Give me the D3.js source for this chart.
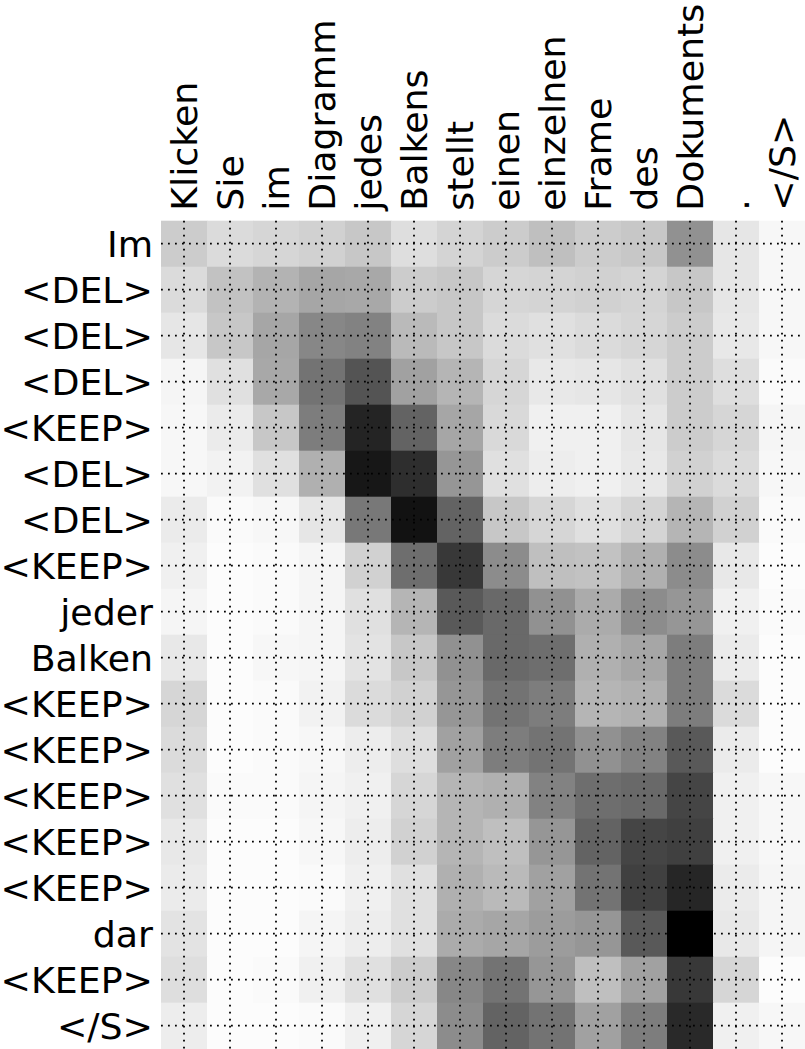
<!DOCTYPE html>
<html>
<head>
<meta charset="utf-8">
<script src="https://cdn.jsdelivr.net/npm/d3@7"></script>
<style>
  body { margin: 0; background: #fff; }
  svg { display: block; }
  .tick text { font-family: "DejaVu Sans", sans-serif; font-size: 36.3px; fill: #000; }
</style>
</head>
<body>
<svg id="chart" width="805" height="1049"></svg>
<script>
// source tokens (columns) and output tokens (rows)
const srcTokens = ["Klicken", "Sie", "im", "Diagramm", "jedes", "Balkens", "stellt",
                   "einen", "einzelnen", "Frame", "des", "Dokuments", ".", "</S>"];
const outTokens = ["Im", "<DEL>", "<DEL>", "<DEL>", "<KEEP>", "<DEL>", "<DEL>", "<KEEP>",
                   "jeder", "Balken", "<KEEP>", "<KEEP>", "<KEEP>", "<KEEP>", "<KEEP>",
                   "dar", "<KEEP>", "</S>"];

// attention weights, one row per output token
const attention = [
  [.20, .14, .16, .18, .22, .13, .17, .20, .25, .20, .22, .43, .10, .03],
  [.14, .24, .30, .35, .34, .20, .22, .16, .17, .18, .17, .22, .10, .03],
  [.10, .22, .35, .47, .49, .27, .22, .14, .12, .14, .16, .20, .09, .03],
  [.04, .12, .34, .55, .67, .37, .29, .16, .09, .10, .12, .20, .13, .02],
  [.03, .08, .22, .51, .86, .61, .35, .15, .06, .06, .10, .20, .16, .04],
  [.03, .05, .12, .31, .91, .82, .41, .12, .07, .06, .09, .18, .14, .03],
  [.08, .02, .03, .10, .53, .93, .61, .22, .16, .12, .17, .29, .18, .02],
  [.06, .01, .02, .04, .18, .57, .78, .45, .25, .24, .31, .45, .09, .01],
  [.04, .01, .02, .04, .12, .29, .65, .59, .43, .33, .45, .41, .06, .02],
  [.09, .01, .03, .04, .11, .22, .43, .59, .57, .31, .35, .51, .08, .01],
  [.16, .01, .02, .05, .14, .18, .41, .55, .51, .29, .31, .51, .14, .01],
  [.14, .01, .02, .03, .07, .13, .37, .51, .55, .43, .49, .65, .08, .01],
  [.12, .02, .02, .04, .06, .16, .29, .31, .49, .57, .59, .73, .06, .03],
  [.09, .01, .01, .03, .07, .18, .29, .25, .41, .61, .73, .75, .06, .03],
  [.08, .01, .01, .02, .06, .12, .31, .27, .37, .55, .75, .85, .08, .04],
  [.11, .01, .01, .04, .07, .12, .33, .35, .39, .41, .65, 1.0, .09, .04],
  [.13, .01, .02, .06, .12, .20, .47, .55, .41, .25, .37, .78, .16, .01],
  [.07, .01, .01, .02, .06, .16, .45, .61, .55, .37, .51, .84, .06, .03]
];

const margin = {top: 220.7, left: 161};
const width = 644, height = 828;

const svg = d3.select("#chart");
const g = svg.append("g").attr("transform", `translate(${margin.left},${margin.top})`);

const x = d3.scaleBand().domain(d3.range(srcTokens.length)).range([0, width]);
const y = d3.scaleBand().domain(d3.range(outTokens.length)).range([0, height]);
const color = d3.scaleLinear().domain([0, 1]).range(["#ffffff", "#000000"]);

// flatten to cells
const cells = [];
attention.forEach((row, r) => row.forEach((v, c) => cells.push({r, c, v})));

g.selectAll("rect.cell")
  .data(cells)
  .enter().append("rect")
  .attr("class", "cell")
  .attr("x", d => x(d.c))
  .attr("y", d => y(d.r))
  .attr("width", x.bandwidth() + 0.5)
  .attr("height", y.bandwidth() + 0.5)
  .style("fill", d => color(d.v));

// dotted grid through the cell centres
const grid = g.append("g").attr("class", "grid")
  .attr("stroke", "#000").attr("stroke-width", 1.8).attr("stroke-dasharray", "1.8,5.2");
grid.selectAll("line.v")
  .data(x.domain())
  .enter().append("line")
  .attr("x1", d => x(d) + x.bandwidth() / 2)
  .attr("x2", d => x(d) + x.bandwidth() / 2)
  .attr("y1", 0).attr("y2", height);
grid.selectAll("line.h")
  .data(y.domain())
  .enter().append("line")
  .attr("y1", d => y(d) + y.bandwidth() / 2)
  .attr("y2", d => y(d) + y.bandwidth() / 2)
  .attr("x1", 0).attr("x2", width);

// top axis, labels turned upright
const xAxis = g.append("g")
  .call(d3.axisTop(x).tickSize(0).tickPadding(0).tickFormat(i => srcTokens[i]));
xAxis.select(".domain").remove();
xAxis.selectAll("text")
  .attr("transform", "rotate(-90)")
  .attr("x", 10)
  .attr("y", 0)
  .attr("dy", "0.36em")
  .attr("text-anchor", "start");

// left axis
const yAxis = g.append("g")
  .call(d3.axisLeft(y).tickSize(0).tickPadding(8).tickFormat(i => outTokens[i]));
yAxis.select(".domain").remove();
yAxis.selectAll("text").attr("dy", "0.36em");
</script>
</body>
</html>
